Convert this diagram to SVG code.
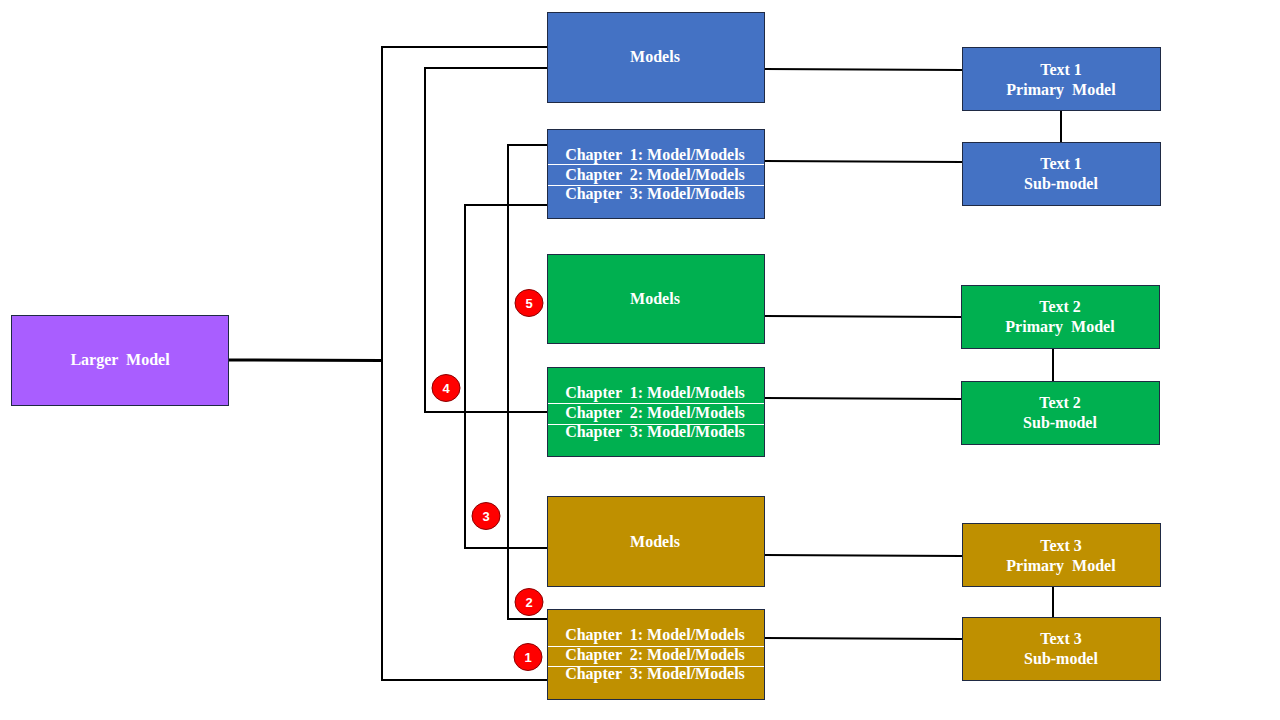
<svg xmlns="http://www.w3.org/2000/svg" width="1280" height="720" viewBox="0 0 1280 720">
<style>
.box{stroke:#1F2A44;stroke-width:1}
.blue{fill:#4472C4}.green{fill:#00B050}.gold{fill:#BF9000}.purple{fill:#A95EFF}
.t{font-family:"Liberation Serif","Times New Roman",serif;font-weight:bold;font-size:16px;fill:#FFFFFF;text-anchor:middle;white-space:pre}
.sep{stroke:#FFFFFF;stroke-width:1}
.c{fill:none;stroke:#000000;stroke-width:2}
.badge ellipse{fill:#FF0000;stroke:#8B0000;stroke-width:1}
.badge text{font-family:"Liberation Sans",Arial,sans-serif;font-weight:bold;font-size:13px;fill:#FFFFFF;text-anchor:middle}
</style>
<rect width="1280" height="720" fill="#FFFFFF"/>
<g id="connectors">
<line x1="228" y1="360" x2="382" y2="360.5" stroke="#000" stroke-width="3"/>
<polyline class="c" points="547,47 382,47 382,680 547,680"/>
<polyline class="c" points="547,68 425,68 425,412 547,412"/>
<polyline class="c" points="547,205 465,205 465,548 547,548"/>
<polyline class="c" points="547,145 508,145 508,619 547,619"/>
<polyline class="c" points="764,69 862,69.5 962,70"/>
<polyline class="c" points="764,161 862,161.5 962,162"/>
<polyline class="c" points="764,316 862,316.5 961,317"/>
<polyline class="c" points="764,398 862,398.5 961,399"/>
<polyline class="c" points="764,555 862,555.5 962,556"/>
<polyline class="c" points="764,638 862,638.5 962,639"/>
<line class="c" x1="1061" y1="110" x2="1061" y2="142"/>
<line class="c" x1="1053" y1="348" x2="1053" y2="381"/>
<line class="c" x1="1053" y1="586" x2="1053" y2="617"/>
</g>
<g id="larger-model">
<rect class="box purple" x="11.5" y="315.5" width="217" height="90"/>
<text class="t" x="120" y="365">Larger  Model</text>
</g>
<g id="models-1">
<rect class="box blue" x="547.5" y="12.5" width="217" height="90"/>
<text class="t" x="655" y="62">Models</text>
</g>
<g id="chapters-1">
<rect class="box blue" x="547.5" y="129.5" width="217" height="89"/>
<line class="sep" x1="548" y1="164.5" x2="764" y2="164.5"/>
<line class="sep" x1="548" y1="185.5" x2="764" y2="185.5"/>
<text class="t" x="655" y="160">Chapter  1: Model/Models</text>
<text class="t" x="655" y="180">Chapter  2: Model/Models</text>
<text class="t" x="655" y="199">Chapter  3: Model/Models</text>
</g>
<g id="models-2">
<rect class="box green" x="547.5" y="254.5" width="217" height="89"/>
<text class="t" x="655" y="304">Models</text>
</g>
<g id="chapters-2">
<rect class="box green" x="547.5" y="367.5" width="217" height="89"/>
<line class="sep" x1="548" y1="403.5" x2="764" y2="403.5"/>
<line class="sep" x1="548" y1="424.5" x2="764" y2="424.5"/>
<text class="t" x="655" y="398">Chapter  1: Model/Models</text>
<text class="t" x="655" y="418">Chapter  2: Model/Models</text>
<text class="t" x="655" y="437">Chapter  3: Model/Models</text>
</g>
<g id="models-3">
<rect class="box gold" x="547.5" y="496.5" width="217" height="90"/>
<text class="t" x="655" y="547">Models</text>
</g>
<g id="chapters-3">
<rect class="box gold" x="547.5" y="609.5" width="217" height="90"/>
<line class="sep" x1="548" y1="646.5" x2="764" y2="646.5"/>
<line class="sep" x1="548" y1="666.5" x2="764" y2="666.5"/>
<text class="t" x="655" y="640">Chapter  1: Model/Models</text>
<text class="t" x="655" y="660">Chapter  2: Model/Models</text>
<text class="t" x="655" y="679">Chapter  3: Model/Models</text>
</g>
<g id="text1-primary">
<rect class="box blue" x="962.5" y="47.5" width="198" height="63"/>
<text class="t" x="1061" y="75">Text 1</text>
<text class="t" x="1061" y="95">Primary  Model</text>
</g>
<g id="text1-sub">
<rect class="box blue" x="962.5" y="142.5" width="198" height="63"/>
<text class="t" x="1061" y="169">Text 1</text>
<text class="t" x="1061" y="189">Sub-model</text>
</g>
<g id="text2-primary">
<rect class="box green" x="961.5" y="285.5" width="198" height="63"/>
<text class="t" x="1060" y="312">Text 2</text>
<text class="t" x="1060" y="332">Primary  Model</text>
</g>
<g id="text2-sub">
<rect class="box green" x="961.5" y="381.5" width="198" height="63"/>
<text class="t" x="1060" y="408">Text 2</text>
<text class="t" x="1060" y="428">Sub-model</text>
</g>
<g id="text3-primary">
<rect class="box gold" x="962.5" y="523.5" width="198" height="63"/>
<text class="t" x="1061" y="551">Text 3</text>
<text class="t" x="1061" y="571">Primary  Model</text>
</g>
<g id="text3-sub">
<rect class="box gold" x="962.5" y="617.5" width="198" height="63"/>
<text class="t" x="1061" y="644">Text 3</text>
<text class="t" x="1061" y="664">Sub-model</text>
</g>
<g id="badge-5" class="badge"><ellipse cx="529" cy="303" rx="14" ry="13.5"/><text x="529" y="308">5</text></g>
<g id="badge-4" class="badge"><ellipse cx="446" cy="388" rx="14" ry="13.5"/><text x="446" y="393">4</text></g>
<g id="badge-3" class="badge"><ellipse cx="486" cy="516" rx="14" ry="13.5"/><text x="486" y="521">3</text></g>
<g id="badge-2" class="badge"><ellipse cx="529" cy="602" rx="14" ry="13.5"/><text x="529" y="607">2</text></g>
<g id="badge-1" class="badge"><ellipse cx="528" cy="657" rx="14" ry="13.5"/><text x="528" y="662">1</text></g>
</svg>
